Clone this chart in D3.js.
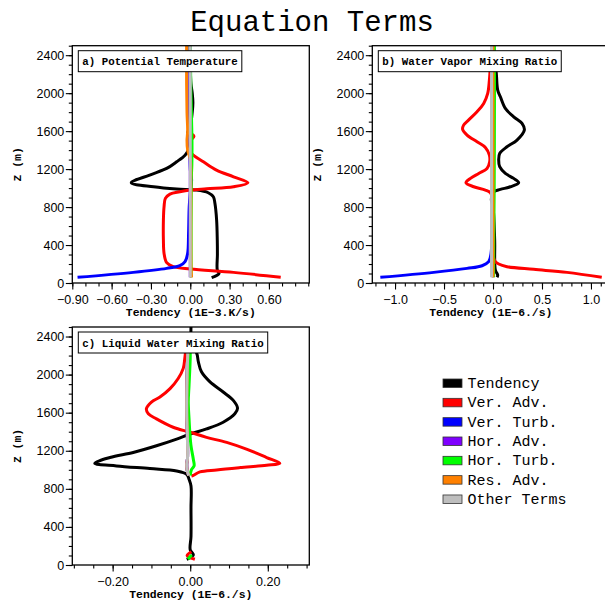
<!DOCTYPE html>
<html>
<head>
<meta charset="utf-8">
<title>Equation Terms</title>
<script src="https://cdn.jsdelivr.net/npm/d3@7"></script>
<style>
  body { margin: 0; background: #fff; }
  .tick text { font: 12.5px "Liberation Sans", Arial, sans-serif; fill: #000; }
  .mono { font-family: "Liberation Mono", "DejaVu Sans Mono", monospace; fill: #000; }
</style>
</head>
<body>
<svg width="605" height="605"></svg>
<script>
// legend / series
var termNames = ["Tendency", "Ver. Adv.", "Ver. Turb.", "Hor. Adv.", "Hor. Turb.", "Res. Adv.", "Other Terms"];
var termColors = ["#000000", "#ff0000", "#0000ff", "#7f00ff", "#00ff00", "#ff8000", "#bebebe"];

var zTicks = [0, 400, 800, 1200, 1600, 2000, 2400];
var aTicks = [-0.9, -0.6, -0.3, 0, 0.3, 0.6];
var bTicks = [-1.0, -0.5, 0, 0.5, 1.0];
var cTicks = [-0.2, 0, 0.2];

// each point: [tendency, z (m)]
// a) potential temperature (1E-3 K/s)
var aTend = [[0.163,56],[0.219,100],[0.206,137],[0.207,300],[0.206,453],[0.201,663],[0.188,839],[0.176,909],[0.137,951],[0.048,979],[-0.104,990],[-0.28,1014],[-0.45,1056],[-0.31,1137],[-0.18,1207],[-0.104,1277],[-0.04,1347],[-0.015,1400],[0.0,1470],[0.003,1540],[-0.02,1580],[0.0,1650],[0.015,1800],[0.02,1900],[0.015,2000],[0.005,2100],[0.0,2300],[0.0,2500]];
var aVerAdv = [[0.69,60],[0.33,112],[0.0,147],[-0.13,172],[-0.18,214],[-0.20,312],[-0.205,453],[-0.205,663],[-0.20,804],[-0.19,891],[-0.155,937],[-0.08,961],[0.0,979],[0.125,993],[0.33,1014],[0.44,1056],[0.33,1119],[0.2,1190],[0.10,1277],[0.023,1347],[0.0,1383],[0.003,1500],[0.028,1545],[0.005,1580],[0.0,1700],[0.0,2500]];
var aVerTurb = [[-0.86,60],[-0.435,112],[-0.18,154],[-0.08,182],[-0.04,225],[-0.02,312],[-0.013,523],[-0.008,804],[0.0,950],[0.01,1085],[0.0,1200],[0.0,2500]];
var aHorAdv = [[0.0,60],[0.0,2500]];
var aHorTurb = [[0.006,60],[0.008,1100],[0.012,1250],[0.013,1500],[0.01,1700],[0.005,2000],[0.0,2500]];
var aResAdv = [[0.01,60],[0.006,150],[0.004,500],[0.004,1100],[0.0,1300],[-0.02,1400],[-0.025,1500],[-0.02,1600],[-0.025,1800],[-0.028,2100],[-0.028,2500]];
var aOther = [[0.0,60],[0.0,2500]];

// b) water vapor mixing ratio (1E-6 /s)
var bTend = [[0.041,60],[0.048,84],[0.024,137],[0.017,453],[0.0,804],[-0.017,874],[-0.01,926],[0.007,961],[0.075,986],[0.177,1014],[0.262,1056],[0.211,1102],[0.126,1154],[0.068,1225],[0.058,1295],[0.068,1365],[0.143,1435],[0.245,1505],[0.32,1611],[0.296,1681],[0.211,1751],[0.126,1839],[0.075,1962],[0.048,2032],[0.034,2207],[0.014,2418],[0.007,2500]];
var bVerAdv = [[1.11,60],[0.755,112],[0.415,144],[0.143,172],[0.058,200],[0.02,230],[0.0,300],[-0.003,600],[-0.005,900],[-0.027,951],[-0.078,979],[-0.197,1014],[-0.276,1056],[-0.23,1102],[-0.146,1154],[-0.061,1207],[-0.034,1277],[-0.037,1347],[-0.078,1428],[-0.163,1488],[-0.265,1558],[-0.31,1618],[-0.30,1663],[-0.25,1716],[-0.163,1804],[-0.095,1891],[-0.054,1997],[-0.037,2137],[-0.027,2277],[-0.01,2418],[0.0,2500]];
var bVerTurb = [[-1.15,60],[-0.605,112],[-0.265,154],[-0.112,182],[-0.044,225],[-0.02,312],[-0.01,593],[-0.005,900],[-0.01,1650],[-0.005,2500]];
var bHorAdv = [[0.0,60],[0.0,2500]];
var bHorTurb = [[0.006,60],[0.008,500],[0.012,1000],[0.014,1500],[0.015,2000],[0.014,2500]];
var bResAdv = [[0.0,60],[0.0,2500]];
var bOther = [[-0.015,60],[-0.015,2500]];

// c) liquid water mixing ratio (1E-6 /s), null = no value
var cTend = [[-0.009,60],[0.008,106],[0.0,159],[0.002,300],[0.002,600],[0.002,829],[-0.003,900],[-0.009,953],[-0.035,988],[-0.104,1013],[-0.19,1041],[-0.246,1069],[-0.207,1129],[-0.147,1182],[-0.087,1253],[-0.035,1323],[0.0,1376],[0.042,1429],[0.085,1500],[0.115,1588],[0.122,1648],[0.111,1729],[0.085,1817],[0.051,1923],[0.029,2029],[0.021,2135],[0.018,2206],[0.012,2276],[0.003,2382],[0.002,2500]];
var cVerAdv = [[0.012,60],[-0.008,100],[0.003,140],[null,null],[0.003,935],[0.008,942],[0.025,978],[0.068,999],[0.128,1023],[0.197,1048],[0.231,1069],[0.197,1129],[0.145,1217],[0.094,1288],[0.042,1341],[0.0,1394],[-0.044,1447],[-0.087,1535],[-0.108,1588],[-0.113,1641],[-0.10,1712],[-0.078,1765],[-0.052,1853],[-0.031,1959],[-0.018,2065],[-0.014,2170],[-0.012,2240]];
var cOther = [[-0.004,940],[-0.008,1000],[-0.009,1060],[-0.007,1120],[-0.007,1300],[-0.009,1600],[-0.008,2000],[-0.006,2240]];
var cVerTurb = cOther, cHorAdv = cOther, cResAdv = cOther;
var cHorTurb = [[-0.006,62],[0.004,105],[null,null],[0.0,940],[0.003,1000],[0.01,1041],[0.008,1111],[0.002,1253],[-0.001,1394],[-0.003,1535],[-0.005,1712],[-0.003,1888],[0.0,2170],[0.0,2240]];

var panels = [
  {id: "a", label: "a) Potential Temperature", unit: "Tendency (1E\u22123.K/s)",
   left: 72.3, right: 309.3, top: 45.7, bottom: 283,
   xDomain: [-0.9, 0.908], ticks: aTicks, minorStep: 0.1, fmt: ".2f",
   series: [aTend, aVerAdv, aVerTurb, aHorAdv, aHorTurb, aResAdv, aOther]},
  {id: "b", label: "b) Water Vapor Mixing Ratio", unit: "Tendency (1E\u22126./s)",
   left: 372.3, right: 609.3, top: 45.7, bottom: 283,
   xDomain: [-1.232, 1.187], ticks: bTicks, minorStep: 0.1, fmt: ".1f",
   series: [bTend, bVerAdv, bVerTurb, bHorAdv, bHorTurb, bResAdv, bOther]},
  {id: "c", label: "c) Liquid Water Mixing Ratio", unit: "Tendency (1E\u22126./s)",
   left: 72.3, right: 309.3, top: 327, bottom: 565,
   xDomain: [-0.304, 0.307], ticks: cTicks, minorStep: 0.05, fmt: ".2f",
   series: [cTend, cVerAdv, cVerTurb, cHorAdv, cHorTurb, cResAdv, cOther]}
];

var svg = d3.select("svg");

svg.append("text")
  .attr("class", "mono")
  .attr("x", 312).attr("y", 31)
  .attr("text-anchor", "middle")
  .style("font-size", "29px")
  .text("Equation Terms");

function drawPanel(p) {
  var x = d3.scaleLinear().domain(p.xDomain).range([p.left, p.right]);
  var y = d3.scaleLinear().domain([0, 2500]).range([p.bottom, p.top]);
  var g = svg.append("g");

  svg.append("clipPath").attr("id", "clip-" + p.id)
    .append("rect")
    .attr("x", p.left).attr("y", p.top)
    .attr("width", p.right - p.left).attr("height", p.bottom - p.top);

  var line = d3.line()
    .defined(function(d) { return d[0] !== null; })
    .x(function(d) { return x(d[0]); })
    .y(function(d) { return y(d[1]); })
    .curve(d3.curveCatmullRom.alpha(0.5));

  var lines = g.append("g").attr("clip-path", "url(#clip-" + p.id + ")");
  p.series.forEach(function(s, i) {
    lines.append("path")
      .attr("d", line(s))
      .attr("fill", "none")
      .attr("stroke", termColors[i])
      .attr("stroke-width", 3)
      .attr("stroke-linejoin", "round");
  });

  // minor ticks
  var lo = Math.ceil(p.xDomain[0] / p.minorStep - 1e-6), hi = Math.floor(p.xDomain[1] / p.minorStep + 1e-6);
  var xMinor = d3.range(lo, hi + 1).map(function(k) { return k * p.minorStep; });
  g.append("g")
    .attr("transform", "translate(0," + p.bottom + ")")
    .call(d3.axisBottom(x).tickValues(xMinor).tickSize(3.5).tickSizeOuter(0).tickFormat(""))
    .call(function(a) { a.select(".domain").remove(); });
  g.append("g")
    .attr("transform", "translate(" + p.left + ",0)")
    .call(d3.axisLeft(y).tickValues(d3.range(0, 2501, 100)).tickSize(3.5).tickSizeOuter(0).tickFormat(""))
    .call(function(a) { a.select(".domain").remove(); });

  // major ticks
  g.append("g")
    .attr("transform", "translate(0," + p.bottom + ")")
    .call(d3.axisBottom(x).tickValues(p.ticks).tickFormat(d3.format(p.fmt)).tickSize(6.5).tickPadding(6).tickSizeOuter(0))
    .call(function(a) { a.select(".domain").remove(); });
  g.append("g")
    .attr("transform", "translate(" + p.left + ",0)")
    .call(d3.axisLeft(y).tickValues(zTicks).tickFormat(d3.format("d")).tickSize(6.5).tickPadding(1.5).tickSizeOuter(0))
    .call(function(a) { a.select(".domain").remove(); });

  g.selectAll(".tick line").attr("stroke", "#000").attr("stroke-width", 1.1);

  g.append("rect")
    .attr("x", p.left).attr("y", p.top)
    .attr("width", p.right - p.left).attr("height", p.bottom - p.top)
    .attr("fill", "none").attr("stroke", "#000").attr("stroke-width", 1.3);

  // panel label box
  var lbl = g.append("text")
    .attr("class", "mono")
    .attr("x", p.left + 10).attr("y", p.top + 19.5)
    .style("font-size", "10.8px").style("font-weight", "bold")
    .text(p.label);
  var w = lbl.node().getComputedTextLength();
  g.insert("rect", "text.mono")
    .attr("x", p.left + 6).attr("y", p.top + 5)
    .attr("width", w + 8).attr("height", 21)
    .attr("fill", "#fff").attr("stroke", "#000").attr("stroke-width", 1);
  lbl.raise();

  g.append("text")
    .attr("class", "mono")
    .attr("x", (p.left + p.right) / 2).attr("y", p.bottom + 33)
    .attr("text-anchor", "middle")
    .style("font-size", "11.4px").style("font-weight", "bold")
    .text(p.unit);

  g.append("text")
    .attr("class", "mono")
    .attr("transform", "translate(" + (p.left - 51) + "," + ((p.top + p.bottom) / 2) + ") rotate(-90)")
    .attr("text-anchor", "middle")
    .style("font-size", "11.4px").style("font-weight", "bold")
    .text("Z (m)");
}

panels.forEach(drawPanel);

// legend
var leg = svg.append("g").attr("transform", "translate(443,383)");
termNames.forEach(function(name, i) {
  var row = leg.append("g").attr("transform", "translate(0," + (i * 19.33) + ")");
  row.append("rect")
    .attr("x", 0).attr("y", -4).attr("width", 19).attr("height", 8.5)
    .attr("fill", termColors[i]).attr("stroke", "#333").attr("stroke-width", 0.8);
  row.append("text")
    .attr("class", "mono")
    .attr("x", 24.5).attr("y", 5)
    .style("font-size", "15px")
    .text(name);
});
</script>
</body>
</html>
